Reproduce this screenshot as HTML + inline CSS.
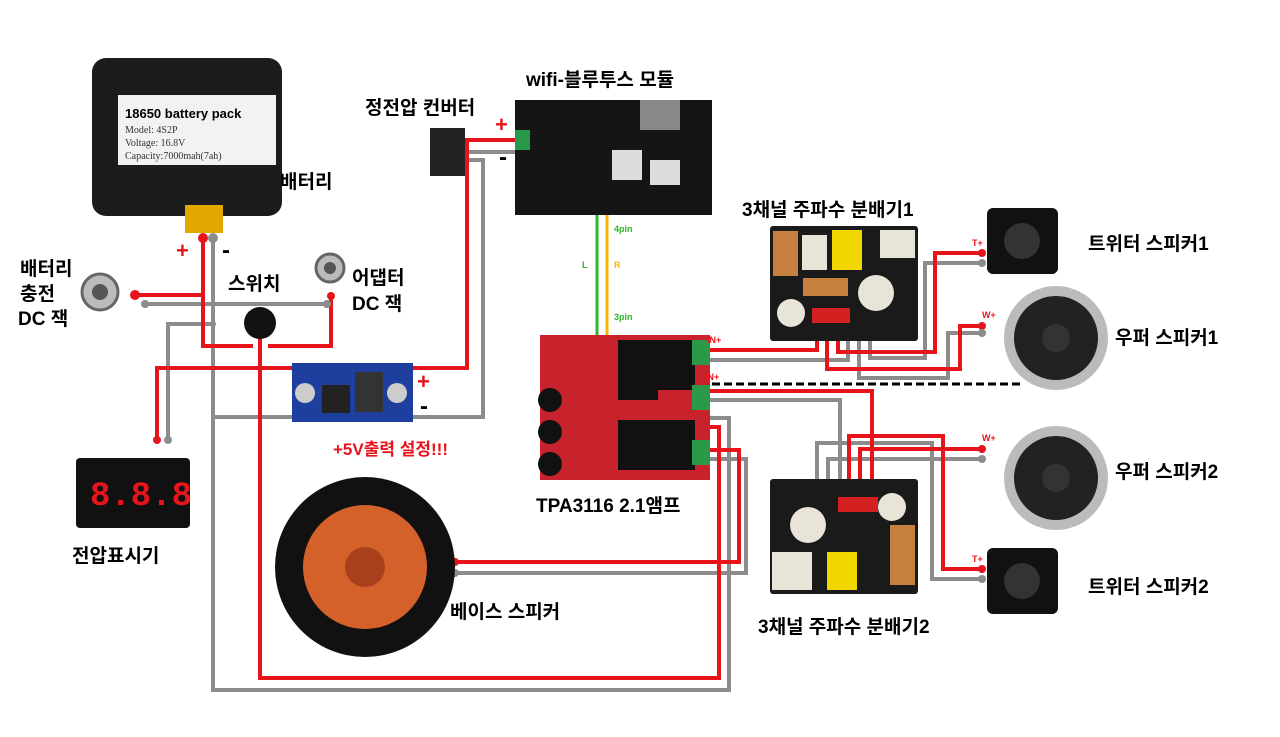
<!DOCTYPE html>
<html><head><meta charset="utf-8"><style>
html,body{margin:0;padding:0;background:#fff;}
svg{display:block}
text{font-family:"Liberation Sans","Noto Sans CJK KR",sans-serif;font-weight:bold;}
</style></head><body>
<svg width="1280" height="737" viewBox="0 0 1280 737" xmlns="http://www.w3.org/2000/svg">
<rect width="1280" height="737" fill="#fff"/>
<!-- wires gray -->
<g fill="none" stroke="#8c8c8c" stroke-width="4">
<polyline points="213,235 213,690 729,690 729,418 705,418"/>
<polyline points="145,304 327,304"/>
<polyline points="168,440 168,324 213,324"/>
<polyline points="213,417 296,417"/>
<polyline points="465,152 520,152"/>
<polyline points="465,160 483,160 483,417 410,417"/>
<polyline points="705,360 848,360 848,335"/>
<polyline points="859,335 859,378 948,378 948,333 982,333"/>
<polyline points="870,335 870,358 925,358 925,263 982,263"/>
<polyline points="705,400 840,400 840,487"/>
<polyline points="817,487 817,443 932,443 932,579 982,579"/>
<polyline points="828,487 828,459 982,459"/>
<polyline points="705,459 746,459 746,573 455,573"/>
</g>
<!-- wires red -->
<g fill="none" stroke="#e8141c" stroke-width="4">
<polyline points="203,238 203,346 253,346"/>
<polyline points="268,346 331,346 331,296"/>
<polyline points="260,335 260,678 719,678 719,427 705,427"/>
<polyline points="135,295 203,295"/>
<polyline points="157,440 157,368 296,368"/>
<polyline points="410,368 467,368 467,140 465,140"/>
<polyline points="465,140 520,140"/>
<polyline points="705,350 817,350 817,335"/>
<polyline points="827,335 827,369 960,369 960,326 982,326"/>
<polyline points="838,335 838,352 935,352 935,253 982,253"/>
<polyline points="705,391 872,391 872,487"/>
<polyline points="849,487 849,436 943,436 943,569 982,569"/>
<polyline points="860,487 860,449 982,449"/>
<polyline points="705,450 739,450 739,562 455,562"/>
</g>
<g fill="#e8141c">
<circle cx="203" cy="238" r="5"/><circle cx="135" cy="295" r="5"/><circle cx="331" cy="296" r="4"/>
<circle cx="157" cy="440" r="4"/><circle cx="296" cy="368" r="5"/><circle cx="410" cy="368" r="4"/>
<circle cx="982" cy="253" r="4"/><circle cx="982" cy="326" r="4"/><circle cx="982" cy="449" r="4"/><circle cx="982" cy="569" r="4"/>
<circle cx="817" cy="335" r="4"/><circle cx="827" cy="335" r="4"/><circle cx="838" cy="335" r="4"/>
<circle cx="849" cy="487" r="4"/><circle cx="860" cy="487" r="4"/><circle cx="872" cy="487" r="4"/>
<circle cx="455" cy="562" r="4"/>
</g>
<g fill="#8c8c8c">
<circle cx="213" cy="238" r="5"/><circle cx="145" cy="304" r="4"/><circle cx="327" cy="304" r="4"/>
<circle cx="168" cy="440" r="4"/><circle cx="296" cy="417" r="4"/><circle cx="410" cy="417" r="4"/>
<circle cx="982" cy="263" r="4"/><circle cx="982" cy="333" r="4"/><circle cx="982" cy="459" r="4"/><circle cx="982" cy="579" r="4"/>
<circle cx="848" cy="335" r="4"/><circle cx="859" cy="335" r="4"/><circle cx="870" cy="335" r="4"/>
<circle cx="817" cy="487" r="4"/><circle cx="828" cy="487" r="4"/><circle cx="840" cy="487" r="4"/>
<circle cx="455" cy="573" r="4"/><circle cx="213" cy="324" r="3"/>
</g>
<line x1="712" y1="384" x2="1020" y2="384" stroke="#000" stroke-width="3" stroke-dasharray="8,4"/>
<line x1="597" y1="130" x2="597" y2="350" stroke="#2db52d" stroke-width="3"/>
<line x1="607" y1="130" x2="607" y2="350" stroke="#f5b500" stroke-width="3"/>
<!-- battery -->
<rect x="92" y="58" width="190" height="158" rx="14" fill="#1c1c1c"/>
<rect x="118" y="95" width="158" height="70" fill="#f2f2f2"/>
<text x="125" y="118" font-size="13" fill="#000">18650 battery pack</text>
<text x="125" y="133" font-size="10" fill="#333" style="font-family:'Liberation Serif',serif;font-weight:normal">Model: 4S2P</text>
<text x="125" y="146" font-size="10" fill="#333" style="font-family:'Liberation Serif',serif;font-weight:normal">Voltage: 16.8V</text>
<text x="125" y="159" font-size="10" fill="#333" style="font-family:'Liberation Serif',serif;font-weight:normal">Capacity:7000mah(7ah)</text>
<rect x="185" y="205" width="38" height="28" fill="#e0a800"/>
<!-- converter small -->
<rect x="430" y="128" width="35" height="48" fill="#222"/>
<!-- wifi board -->
<rect x="515" y="100" width="197" height="115" fill="#151515"/>
<rect x="640" y="100" width="40" height="30" fill="#888"/>
<rect x="612" y="150" width="30" height="30" fill="#ddd"/>
<rect x="650" y="160" width="30" height="25" fill="#ddd"/>
<rect x="515" y="130" width="15" height="20" fill="#2a9a4a"/>
<!-- jacks & switch -->
<circle cx="100" cy="292" r="18" fill="#bbb" stroke="#666" stroke-width="3"/>
<circle cx="100" cy="292" r="8" fill="#555"/>
<circle cx="330" cy="268" r="14" fill="#bbb" stroke="#666" stroke-width="3"/>
<circle cx="330" cy="268" r="6" fill="#555"/>
<circle cx="260" cy="323" r="16" fill="#111"/>
<!-- buck -->
<rect x="292" y="363" width="121" height="59" fill="#1f3f9e"/>
<rect x="355" y="372" width="28" height="40" fill="#333"/>
<rect x="322" y="385" width="28" height="28" fill="#222"/>
<circle cx="305" cy="393" r="10" fill="#ccc"/><circle cx="397" cy="393" r="10" fill="#ccc"/>
<!-- voltmeter -->
<rect x="76" y="458" width="114" height="70" rx="4" fill="#111"/>
<text x="90" y="505" font-size="34" fill="#e8141c" style="font-family:'Liberation Mono',monospace">8.8.8</text>
<!-- amp -->
<rect x="540" y="335" width="170" height="145" fill="#c8232c"/>
<rect x="618" y="340" width="40" height="60" fill="#111"/>
<rect x="655" y="340" width="40" height="50" fill="#111"/>
<rect x="618" y="420" width="40" height="50" fill="#111"/>
<rect x="655" y="420" width="40" height="50" fill="#111"/>
<circle cx="550" cy="400" r="12" fill="#111"/><circle cx="550" cy="432" r="12" fill="#111"/><circle cx="550" cy="464" r="12" fill="#111"/>
<rect x="692" y="340" width="18" height="25" fill="#2a9a4a"/>
<rect x="692" y="385" width="18" height="25" fill="#2a9a4a"/>
<rect x="692" y="440" width="18" height="25" fill="#2a9a4a"/>
<!-- crossovers -->
<rect x="770" y="226" width="148" height="115" rx="3" fill="#1a1a1a"/>
<rect x="773" y="231" width="25" height="45" fill="#c68040"/>
<rect x="832" y="230" width="30" height="40" fill="#f2d600"/>
<rect x="802" y="235" width="25" height="35" fill="#e8e4d8"/>
<rect x="880" y="230" width="35" height="28" fill="#e8e4d8"/>
<rect x="803" y="278" width="45" height="18" fill="#c68040"/>
<circle cx="876" cy="293" r="18" fill="#e8e4d8"/>
<circle cx="791" cy="313" r="14" fill="#e8e4d8"/>
<rect x="812" y="308" width="38" height="15" fill="#d42020"/>
<rect x="770" y="479" width="148" height="115" rx="3" fill="#1a1a1a"/>
<rect x="838" y="497" width="40" height="15" fill="#d42020"/>
<circle cx="808" cy="525" r="18" fill="#e8e4d8"/>
<circle cx="892" cy="507" r="14" fill="#e8e4d8"/>
<rect x="890" y="525" width="25" height="60" fill="#c68040"/>
<rect x="827" y="552" width="30" height="38" fill="#f2d600"/>
<rect x="772" y="552" width="40" height="38" fill="#e8e4d8"/>
<!-- tweeters -->
<rect x="987" y="208" width="71" height="66" rx="6" fill="#111"/>
<circle cx="1022" cy="241" r="18" fill="#333"/>
<rect x="987" y="548" width="71" height="66" rx="6" fill="#111"/>
<circle cx="1022" cy="581" r="18" fill="#333"/>
<!-- woofers -->
<circle cx="1056" cy="338" r="52" fill="#bbb"/><circle cx="1056" cy="338" r="42" fill="#222"/><circle cx="1056" cy="338" r="14" fill="#333"/>
<circle cx="1056" cy="478" r="52" fill="#bbb"/><circle cx="1056" cy="478" r="42" fill="#222"/><circle cx="1056" cy="478" r="14" fill="#333"/>
<!-- bass -->
<circle cx="365" cy="567" r="90" fill="#111"/>
<circle cx="365" cy="567" r="62" fill="#d4602a"/>
<circle cx="365" cy="567" r="20" fill="#a8401c"/>
<!-- labels -->
<g font-size="19" fill="#000">
<text x="280" y="188">배터리</text>
<text x="20" y="275">배터리</text>
<text x="20" y="300">충전</text>
<text x="18" y="325">DC 잭</text>
<text x="228" y="290">스위치</text>
<text x="352" y="284">어댑터</text>
<text x="352" y="310">DC 잭</text>
<text x="365" y="114">정전압 컨버터</text>
<text x="526" y="86">wifi-블루투스 모듈</text>
<text x="742" y="216">3채널 주파수 분배기1</text>
<text x="1088" y="250">트위터 스피커1</text>
<text x="1115" y="344">우퍼 스피커1</text>
<text x="1115" y="478">우퍼 스피커2</text>
<text x="1088" y="593">트위터 스피커2</text>
<text x="758" y="633">3채널 주파수 분배기2</text>
<text x="536" y="512">TPA3116 2.1앰프</text>
<text x="450" y="618">베이스 스피커</text>
<text x="72" y="562">전압표시기</text>
</g>
<text x="333" y="455" font-size="17" fill="#e8141c">+5V출력 설정!!!</text>
<g font-size="22" fill="#e8141c"><text x="176" y="258">+</text><text x="495" y="132">+</text><text x="417" y="389">+</text></g>
<g font-size="24" fill="#000"><text x="222" y="258">-</text><text x="499" y="165">-</text><text x="420" y="414">-</text></g>
<g font-size="9">
<text x="614" y="232" fill="#2db52d">4pin</text>
<text x="614" y="320" fill="#2db52d">3pin</text>
<text x="582" y="268" fill="#2db52d">L</text>
<text x="614" y="268" fill="#f5b500">R</text>
<text x="707" y="343" fill="#e8141c">IN+</text>
<text x="705" y="380" fill="#e8141c">IN+</text>
<text x="972" y="246" fill="#e8141c">T+</text>
<text x="982" y="318" fill="#e8141c">W+</text>
<text x="982" y="441" fill="#e8141c">W+</text>
<text x="972" y="562" fill="#e8141c">T+</text>
</g>
</svg>
</body></html>
